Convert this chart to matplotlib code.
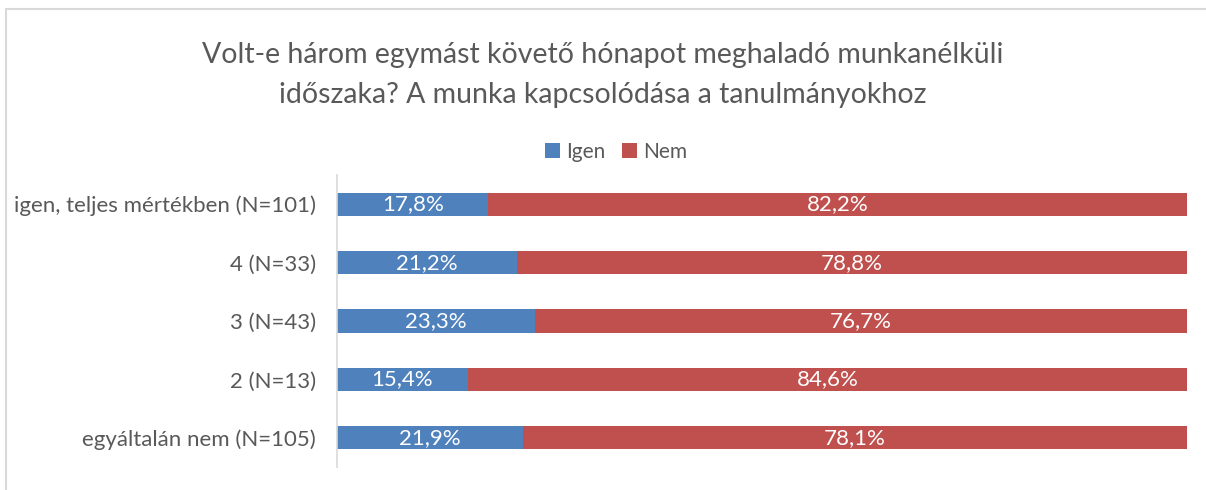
import matplotlib.pyplot as plt
from matplotlib.patches import Rectangle

plt.rcParams['font.family'] = ['Lato', 'DejaVu Sans']

categories = ['igen, teljes mértékben (N=101)', '4 (N=33)', '3 (N=43)',
              '2 (N=13)', 'egyáltalán nem (N=105)']
igen = [17.8, 21.2, 23.3, 15.4, 21.9]
nem = [82.2, 78.8, 76.7, 84.6, 78.1]
series_names = ['Igen', 'Nem']

blue = '#4F81BD'
red = '#C0504D'
grey_text = '#595959'

fig = plt.figure(figsize=(12.06, 4.90), dpi=100)
fig.patches.append(Rectangle((6 / 1206, -0.1), 1.2, 1 - 9 / 490 + 0.1,
                             transform=fig.transFigure, fill=False,
                             edgecolor='#d9d9d9', linewidth=1.5))

ax = fig.add_axes([337 / 1206, 1 - 467 / 490, 850 / 1206, 292 / 490])
y = list(range(len(categories)))[::-1]
b1 = ax.barh(y, igen, height=0.4, color=blue, label=series_names[0])
b2 = ax.barh(y, nem, left=igen, height=0.4, color=red, label=series_names[1])

for yi, a, b in zip(y, igen, nem):
    ax.text(a / 2, yi, f'{a:.1f}%'.replace('.', ','), ha='center', va='center',
            color='white', fontsize=16)
    ax.text(a + b / 2, yi, f'{b:.1f}%'.replace('.', ','), ha='center', va='center',
            color='white', fontsize=16)

ax.set_xlim(0, 100)
ax.set_ylim(-0.5, len(categories) - 0.5)
ax.set_yticks(y)
ax.set_yticklabels(categories, fontsize=16, color=grey_text)
ax.tick_params(axis='y', length=0, pad=15)
ax.set_xticks([])
for side in ['top', 'right', 'bottom']:
    ax.spines[side].set_visible(False)
ax.spines['left'].set_color('#d9d9d9')
ax.spines['left'].set_linewidth(1.2)

fig.text(0.5, 1 - 75 / 490,
         'Volt-e három egymást követő hónapot meghaladó munkanélküli\n'
         'időszaka? A munka kapcsolódása a tanulmányokhoz',
         ha='center', va='center', fontsize=20.5, color=grey_text, linespacing=1.7)

fig.legend(handles=[b1, b2], labels=series_names, loc='center',
           bbox_to_anchor=(0.511, 1 - 152 / 490), ncol=2, frameon=False,
           fontsize=15, handlelength=0.7, handleheight=0.7,
           handletextpad=0.3, columnspacing=0.8, labelcolor=grey_text)

fig.savefig('out.png', dpi=100, facecolor='white')
